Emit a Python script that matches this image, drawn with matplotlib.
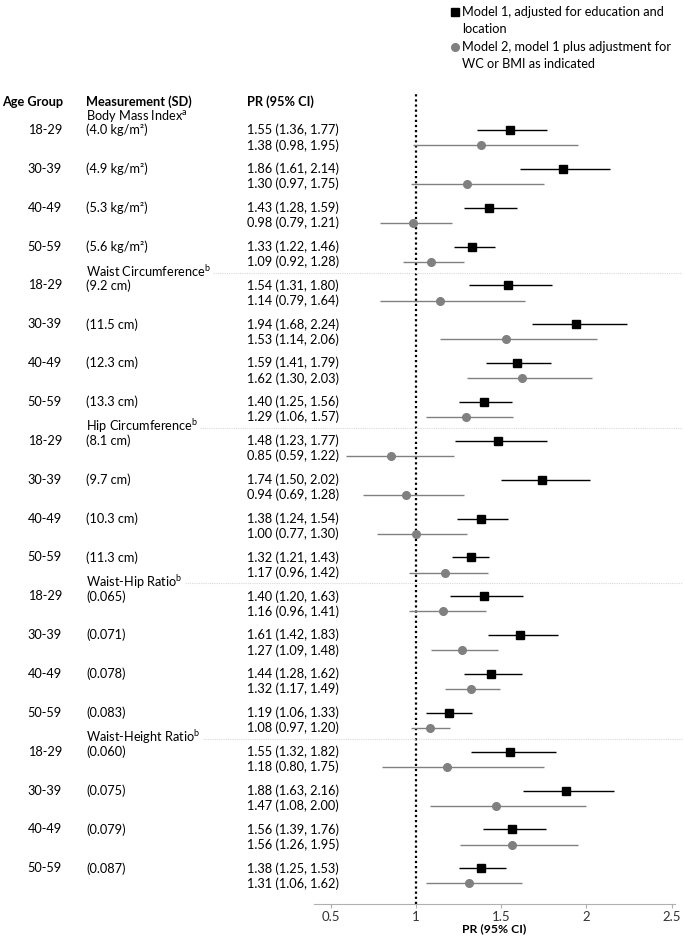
import numpy as np
import matplotlib
matplotlib.use("Agg")
import matplotlib.pyplot as plt
from matplotlib.transforms import blended_transform_factory
from matplotlib.lines import Line2D

plt.rcParams['font.family'] = ['Lato', 'DejaVu Sans']
plt.rcParams['mathtext.default'] = 'regular'

# данные
sections = ["Body Mass Index$^a$", "Waist Circumference$^b$", "Hip Circumference$^b$",
            "Waist-Hip Ratio$^b$", "Waist-Height Ratio$^b$"]
ages = ["18-29", "30-39", "40-49", "50-59"]
sd_labels = [
    ["(4.0 kg/m²)", "(4.9 kg/m²)", "(5.3 kg/m²)", "(5.6 kg/m²)"],
    ["(9.2 cm)", "(11.5 cm)", "(12.3 cm)", "(13.3 cm)"],
    ["(8.1 cm)", "(9.7 cm)", "(10.3 cm)", "(11.3 cm)"],
    ["(0.065)", "(0.071)", "(0.078)", "(0.083)"],
    ["(0.060)", "(0.075)", "(0.079)", "(0.087)"],
]
m1_pr = [1.55, 1.86, 1.43, 1.33, 1.54, 1.94, 1.59, 1.40, 1.48, 1.74, 1.38, 1.32,
         1.40, 1.61, 1.44, 1.19, 1.55, 1.88, 1.56, 1.38]
m1_lo = [1.36, 1.61, 1.28, 1.22, 1.31, 1.68, 1.41, 1.25, 1.23, 1.50, 1.24, 1.21,
         1.20, 1.42, 1.28, 1.06, 1.32, 1.63, 1.39, 1.25]
m1_hi = [1.77, 2.14, 1.59, 1.46, 1.80, 2.24, 1.79, 1.56, 1.77, 2.02, 1.54, 1.43,
         1.63, 1.83, 1.62, 1.33, 1.82, 2.16, 1.76, 1.53]
m2_pr = [1.38, 1.30, 0.98, 1.09, 1.14, 1.53, 1.62, 1.29, 0.85, 0.94, 1.00, 1.17,
         1.16, 1.27, 1.32, 1.08, 1.18, 1.47, 1.56, 1.31]
m2_lo = [0.98, 0.97, 0.79, 0.92, 0.79, 1.14, 1.30, 1.06, 0.59, 0.69, 0.77, 0.96,
         0.96, 1.09, 1.17, 0.97, 0.80, 1.08, 1.26, 1.06]
m2_hi = [1.95, 1.75, 1.21, 1.28, 1.64, 2.06, 2.03, 1.57, 1.22, 1.28, 1.30, 1.42,
         1.41, 1.48, 1.49, 1.20, 1.75, 2.00, 1.95, 1.62]
xticks = [0.5, 1, 1.5, 2, 2.5]

W, H = 685, 942
fig = plt.figure(figsize=(W / 100, H / 100), dpi=100)
ax = fig.add_axes([314 / W, 1 - 904 / H, (675 - 314) / W, (904 - 92) / H])

n = len(m1_pr)
y1 = np.arange(n, dtype=float)
off = 0.39  # смещение модели 2
y2 = y1 + off
gray = '#808080'

ax.axvline(1, color='black', ls=(0, (1, 1.3)), lw=1.6, zorder=1)
ax.errorbar(m1_pr, y1, xerr=[np.array(m1_pr) - m1_lo, np.array(m1_hi) - m1_pr],
            fmt='s', color='black', ms=5.8, elinewidth=1.0, capsize=0, zorder=3)
ax.errorbar(m2_pr, y2, xerr=[np.array(m2_pr) - m2_lo, np.array(m2_hi) - m2_pr],
            fmt='o', color=gray, ms=5.5, elinewidth=1.0, capsize=0, zorder=3)

ax.set_xlim(0.4, 2.52)
ax.set_ylim(19.92, -0.98)
ax.set_xticks(xticks)
ax.set_xticklabels([str(t) for t in xticks], fontsize=9.5, color='#333333')
ax.set_yticks([])
for s in ['top', 'left', 'right']:
    ax.spines[s].set_visible(False)
ax.spines['bottom'].set_color('#b0b0b0')
ax.tick_params(axis='x', direction='out', length=3, color='#b0b0b0', pad=2)
ax.set_xlabel("PR (95% CI)", fontsize=8.8, fontweight='bold', labelpad=0)
ax.patch.set_alpha(0)

tr = blended_transform_factory(fig.transFigure, ax.transData)
fs = 9.2
x_age = 62 / W
x_meas = 86 / W
x_pr = 247 / W

hy = -0.72
ax.text(2 / W, hy, "Age Group", transform=tr, fontsize=fs, fontweight='bold',
        va='center', ha='left', clip_on=False)
ax.text(x_meas, hy, "Measurement (SD)", transform=tr, fontsize=fs, fontweight='bold',
        va='center', ha='left', clip_on=False)
ax.text(x_pr, hy, "PR (95% CI)", transform=tr, fontsize=fs, fontweight='bold',
        va='center', ha='left', clip_on=False)

sec_texts = []
for si, sec in enumerate(sections):
    for ai, age in enumerate(ages):
        k = si * 4 + ai
        ax.text(x_age, y1[k], age, transform=tr, fontsize=fs, va='center', ha='right', clip_on=False)
        ax.text(x_meas, y1[k], sd_labels[si][ai], transform=tr, fontsize=fs, va='center',
                ha='left', clip_on=False)
        ax.text(x_pr, y1[k], "%.2f (%.2f, %.2f)" % (m1_pr[k], m1_lo[k], m1_hi[k]), transform=tr,
                fontsize=fs, va='center', ha='left', clip_on=False)
        ax.text(x_pr, y2[k], "%.2f (%.2f, %.2f)" % (m2_pr[k], m2_lo[k], m2_hi[k]), transform=tr,
                fontsize=fs, va='center', ha='left', clip_on=False)
    t = ax.text(x_meas, y1[si * 4] - 0.37, sec, transform=tr, fontsize=fs, va='center',
                ha='left', clip_on=False)
    sec_texts.append((si, t))

# разделители после заголовков разделов
fig.canvas.draw()
r = fig.canvas.get_renderer()
for si, t in sec_texts:
    if si == 0:
        continue
    bb = t.get_window_extent(r)
    x0 = bb.x1 / W + 0.003
    ax.add_line(Line2D([x0, 682 / W], [y1[si * 4] - 0.33] * 2, transform=tr, color='#d9d9d9',
                       lw=0.8, ls=(0, (1, 1)), clip_on=False))

# легенда
fig.add_artist(Line2D([455 / W], [1 - 12 / H], marker='s', ms=6, color='black',
                      transform=fig.transFigure))
fig.add_artist(Line2D([455 / W], [1 - 47 / H], marker='o', ms=5.5, color=gray,
                      transform=fig.transFigure))
fig.text(462 / W, 1 - 12 / H, "Model 1, adjusted for education and", fontsize=fs, va='center')
fig.text(462 / W, 1 - 29 / H, "location", fontsize=fs, va='center')
fig.text(462 / W, 1 - 47 / H, "Model 2, model 1 plus adjustment for", fontsize=fs, va='center')
fig.text(462 / W, 1 - 64 / H, "WC or BMI as indicated", fontsize=fs, va='center')

fig.savefig("out.png", dpi=100, facecolor='white')
